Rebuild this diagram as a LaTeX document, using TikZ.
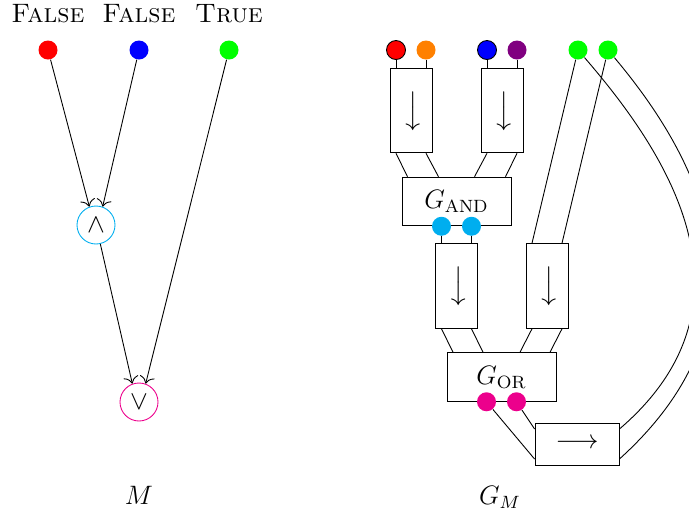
\documentclass[tikz,border=0pt]{standalone}
\usetikzlibrary{calc,arrows.meta}
\definecolor{mycyan}{RGB}{0,174,239}
\definecolor{mymagenta}{RGB}{236,0,140}
\definecolor{myorange}{RGB}{255,128,0}
\definecolor{mypurple}{RGB}{128,0,128}
\definecolor{mygreen}{RGB}{0,255,0}
\begin{document}
\begin{tikzpicture}[x=0.45pt,y=-0.45pt,
  dot/.style={circle,inner sep=0pt,minimum size=8.55pt},
  gate/.style={circle,draw,inner sep=0pt,minimum size=17.1pt,font=\large},
  permbox/.style={draw,inner sep=0pt,minimum width=18.9pt,minimum height=38.1pt},
  gbox/.style={draw,inner sep=0pt,minimum width=49.05pt,minimum height=21.9pt},
  arrbox/.style={draw,inner sep=0pt,minimum width=37.8pt,minimum height=18.9pt},
  lbl/.style={anchor=base,inner sep=0pt,font=\large},
  >={To[scale=1.3]}]
\useasboundingbox (0,0) rectangle (689,525);
% ---------- left: M ----------
\node[lbl] (t1) at (48,22) {\textsc{False}};
\node[lbl] (t2) at (139,22) {\textsc{False}};
\node[lbl] (t3) at (229,22) {\textsc{True}};
\node[dot,fill=red] (lr) at (48,50) {};
\node[dot,fill=blue] (lb) at (139,50) {};
\node[dot,fill=mygreen] (lg) at (229,50) {};
\node[gate,draw=mycyan] (and) at (96,225) {$\wedge$};
\node[gate,draw=mymagenta] (or) at (139,402) {$\vee$};
\draw[->] (lr) -- (and.110);
\draw[->] (lb) -- (and.70);
\draw[->] (and) -- (or.110);
\draw[->] (lg) -- (or.70);
\node[lbl] (mlab) at (139,504) {$M$};
% ---------- right: G_M ----------
\node[permbox] (b1) at (411,110.5) {\rotatebox{-90}{\large$\longrightarrow$}};
\node[permbox] (b2) at (502,110.5) {\rotatebox{-90}{\large$\longrightarrow$}};
\node[dot,fill=red,draw=black] (rr) at (396,50) {};
\node[dot,fill=myorange] (ro) at (426,50) {};
\node[dot,fill=blue,draw=black] (rb) at (487,50) {};
\node[dot,fill=mypurple] (rp) at (517,50) {};
\node[dot,fill=mygreen] (g1) at (578,50) {};
\node[dot,fill=mygreen] (g2) at (608,50) {};
\draw (rr) -- (rr |- b1.north);
\draw (ro) -- (ro |- b1.north);
\draw (rb) -- (rb |- b2.north);
\draw (rp) -- (rp |- b2.north);
\node[gbox] (gand) at (456.5,201.5) {\large$G_{\mathrm{AND}}$};
\draw ($(b1.south)+(-15,0)$) -- ($(gand.north)+(-49,0)$);
\draw ($(b1.south)+(15,0)$) -- ($(gand.north)+(-18,0)$);
\draw ($(b2.south)+(-15,0)$) -- ($(gand.north)+(18,0)$);
\draw ($(b2.south)+(15,0)$) -- ($(gand.north)+(49,0)$);
\node[dot,fill=mycyan] (c1) at ($(gand.south)+(-15,0)$) {};
\node[dot,fill=mycyan] (c2) at ($(gand.south)+(15,0)$) {};
\node[permbox] (b3) at (456.5,286) {\rotatebox{-90}{\large$\longrightarrow$}};
\node[permbox] (b4) at (547,286) {\rotatebox{-90}{\large$\longrightarrow$}};
\draw (c1) -- (c1 |- b3.north);
\draw (c2) -- (c2 |- b3.north);
\draw (g1) -- ($(b4.north)+(-15,0)$);
\draw (g2) -- ($(b4.north)+(15,0)$);
\node[gbox] (gor) at (501.5,377) {\large$G_{\mathrm{OR}}$};
\draw ($(b3.south)+(-15,0)$) -- ($(gor.north)+(-48.5,0)$);
\draw ($(b3.south)+(15,0)$) -- ($(gor.north)+(-18.5,0)$);
\draw ($(b4.south)+(-15,0)$) -- ($(gor.north)+(18.5,0)$);
\draw ($(b4.south)+(15,0)$) -- ($(gor.north)+(48.5,0)$);
\node[dot,fill=mymagenta] (m1) at ($(gor.south)+(-15,0)$) {};
\node[dot,fill=mymagenta] (m2) at ($(gor.south)+(15,0)$) {};
\node[arrbox] (arr) at (577,444) {\large$\longrightarrow$};
\draw (m1) -- ($(arr.west)+(0,15)$);
\draw (m2) -- ($(arr.west)+(0,-15)$);
\coordinate (ia) at (660,145);
\coordinate (ib) at (770,300);
\coordinate (oa) at (698,157);
\coordinate (ob) at (782,312);
\draw (g1) .. controls (ia) and (ib) .. ($(arr.east)+(0,-15)$);
\draw (g2) .. controls (oa) and (ob) .. ($(arr.east)+(0,15)$);
\node[lbl] (gmlab) at (500,504) {$G_M$};
\end{tikzpicture}
\end{document}
